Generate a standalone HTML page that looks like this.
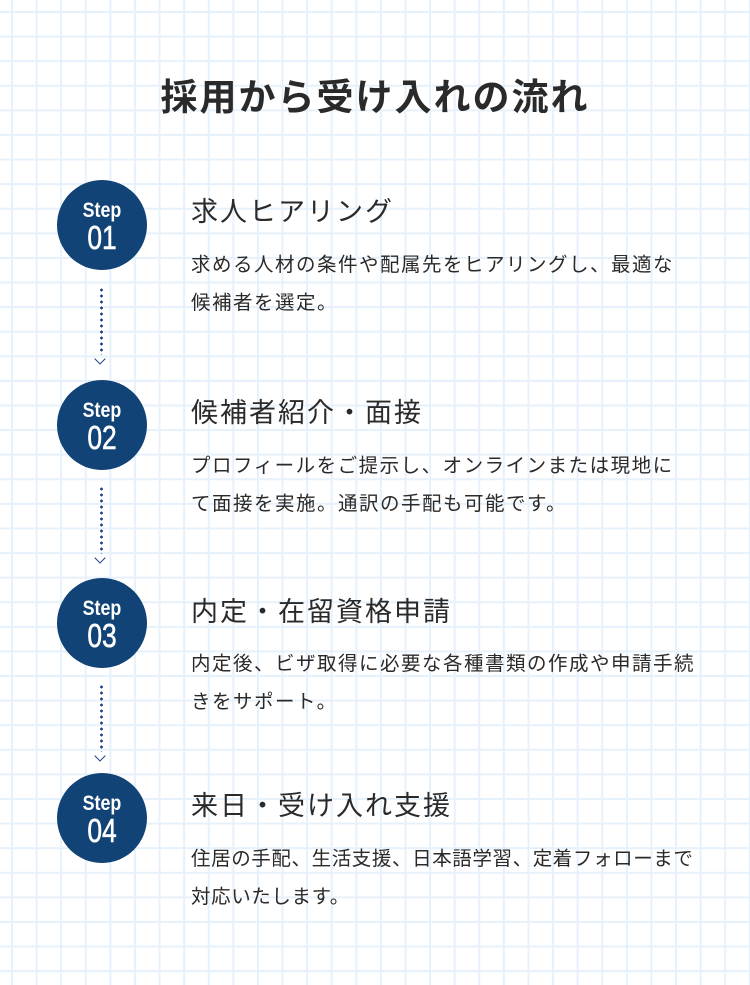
<!DOCTYPE html>
<html><head><meta charset="utf-8"><style>
*{margin:0;padding:0;box-sizing:border-box}
body{width:750px;height:985px;overflow:hidden;background-color:#fff;
background-image:linear-gradient(to right,#e6f1fb 2px,transparent 2px),linear-gradient(to bottom,#e6f1fb 2px,transparent 2px);
background-size:24.6px 24.6px;background-position:11px 11px;
font-family:"Liberation Sans","Noto Sans CJK JP",sans-serif;color:#2a2a2a;position:relative}
h1{position:absolute;top:72px;left:0;width:750px;text-align:center;font-size:37px;font-weight:bold;letter-spacing:2px;line-height:52px;color:#2a2a2a}
.c{position:absolute;left:57px;width:90px;height:90px;border-radius:50%;background:#114377;color:#fff;text-align:center}
.c .s{font-size:21px;line-height:20px;margin-top:21px;font-weight:bold;transform:scaleX(0.85)}
.c .n{font-size:33px;line-height:34px;transform:scaleX(0.8);-webkit-text-stroke:0.6px #fff}
.t{position:absolute;left:191px;font-size:27px;letter-spacing:2px;line-height:36px;white-space:nowrap}
.p{position:absolute;left:191px;font-size:19.5px;letter-spacing:1.5px;line-height:38px;white-space:nowrap}
.d{position:absolute;left:100px;width:3px;height:68px;background-image:radial-gradient(circle,#1d3f8a 1.3px,transparent 1.5px);background-size:3px 6px}
.a{position:absolute;left:96px;width:8px;height:8px;border-right:1.6px solid #1d3f8a;border-bottom:1.6px solid #1d3f8a;transform:rotate(45deg)}
</style></head><body>
<h1>採用から受け入れの流れ</h1>

<div class="c" style="top:180px"><div class="s">Step</div><div class="n">01</div></div>
<div class="t" style="top:194px">求人ヒアリング</div>
<div class="p" style="top:246px">求める人材の条件や配属先をヒアリングし、最適な<br>候補者を選定。</div>
<div class="d" style="top:287px"></div><div class="a" style="top:355px"></div>

<div class="c" style="top:380px"><div class="s">Step</div><div class="n">02</div></div>
<div class="t" style="top:395px">候補者紹介・面接</div>
<div class="p" style="top:447px">プロフィールをご提示し、オンラインまたは現地に<br>て面接を実施。通訳の手配も可能です。</div>
<div class="d" style="top:486px"></div><div class="a" style="top:554px"></div>

<div class="c" style="top:578px"><div class="s">Step</div><div class="n">03</div></div>
<div class="t" style="top:594px">内定・在留資格申請</div>
<div class="p" style="top:645px">内定後、ビザ取得に必要な各種書類の作成や申請手続<br>きをサポート。</div>
<div class="d" style="top:684px"></div><div class="a" style="top:752px"></div>

<div class="c" style="top:773px"><div class="s">Step</div><div class="n">04</div></div>
<div class="t" style="top:788px">来日・受け入れ支援</div>
<div class="p" style="top:840px;letter-spacing:0.6px">住居の手配、生活支援、日本語学習、定着フォローまで<br>対応いたします。</div>
</body></html>
